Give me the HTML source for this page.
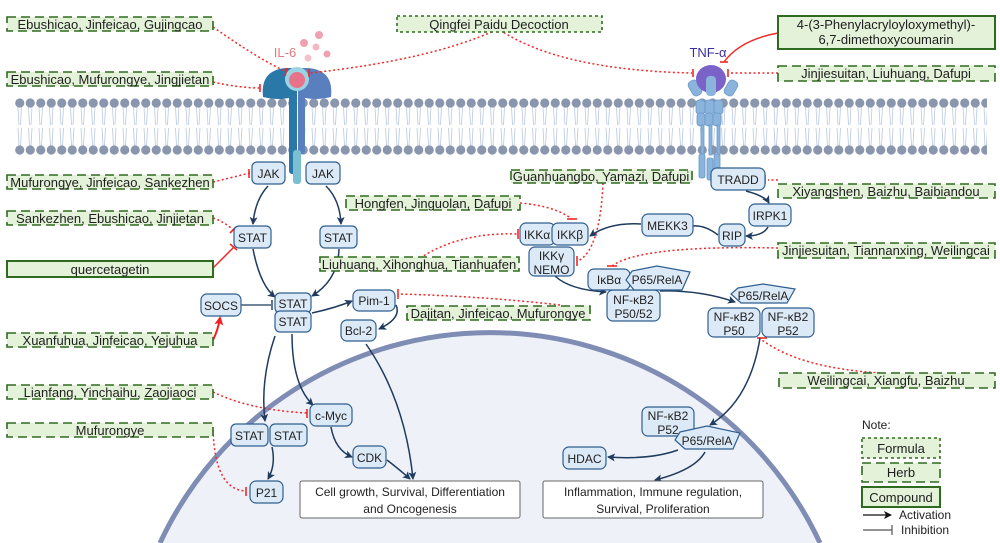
<!DOCTYPE html>
<html><head><meta charset="utf-8"><style>
html,body{margin:0;padding:0;background:#fff;width:1000px;height:543px;overflow:hidden}
svg{display:block;font-family:"Liberation Sans",sans-serif;overflow:hidden}
.n{fill:#dce9f7;stroke:#2f5f8f;stroke-width:1.2}
.t{font-size:12px;fill:#222;text-anchor:middle}
.h{fill:#e3f2d9;stroke:#2e6b1f;stroke-width:1.6;stroke-dasharray:9 5}
.f{fill:#e3f2d9;stroke:#2e6b1f;stroke-width:1.6;stroke-dasharray:3 3}
.c{fill:#e3f2d9;stroke:#2e6b1f;stroke-width:2}
.ht{font-size:13px;fill:#1e1e1e;text-anchor:middle}
.r{fill:none;stroke:#f02828;stroke-width:1.5;stroke-dasharray:2 2.5}
.rb{stroke:#f02828;stroke-width:1.6}
.a{fill:none;stroke:#1f3b5e;stroke-width:1.5;marker-end:url(#ar)}
</style></head><body>
<svg width="1000" height="543" viewBox="0 0 1000 543">
<defs>
<clipPath id="frame"><rect x="0" y="0" width="1000" height="543"/></clipPath>
<marker id="ar" markerWidth="8" markerHeight="8" refX="7" refY="4" orient="auto" markerUnits="userSpaceOnUse"><path d="M0,0 L8,4 L0,8 L2,4z" fill="#1f3b5e"/></marker>
<marker id="ark" markerWidth="8" markerHeight="8" refX="7" refY="4" orient="auto" markerUnits="userSpaceOnUse"><path d="M0,0 L8,4 L0,8 L2,4z" fill="#111"/></marker>
<marker id="arr" markerWidth="9" markerHeight="9" refX="7" refY="4.5" orient="auto" markerUnits="userSpaceOnUse"><path d="M0,0 L9,4.5 L0,9 L2,4.5z" fill="#f02020"/></marker>
<pattern id="mem" x="14.5" y="96" width="10.5" height="60" patternUnits="userSpaceOnUse">
<path d="M3.5,11 L4.5,29 M7,11 L6,29 M3.5,32 L4.5,50 M7,32 L6,50" stroke="#b9c8e2" stroke-width="0.8" fill="none"/>
<circle cx="5.25" cy="7" r="4.6" fill="#8a96ad"/>
<circle cx="5.25" cy="54" r="4.6" fill="#8a96ad"/>
</pattern>
</defs>

<rect x="14" y="96" width="973" height="60" fill="url(#mem)"/>

<g clip-path="url(#frame)">
<path d="M160,543 A364,364 0 0 1 820,543 Z" fill="#eef1f8" stroke="none"/>
<path d="M160,543 A364,364 0 0 1 820,543" fill="none" stroke="#7f8db5" stroke-width="5"/>
</g>

<path d="M263,97 Q260,70 286,68 L292,68 L292,97 Q280,101 263,97z" fill="#2a78a8"/>
<path d="M331,97 Q334,70 308,68 L302,68 L302,97 Q314,101 331,97z" fill="#5a7fbf"/>
<rect x="289" y="86" width="8" height="88" rx="3" fill="#2a78a8"/>
<rect x="298" y="86" width="7" height="68" rx="3" fill="#5a7fbf"/>
<rect x="293" y="150" width="8" height="34" rx="3" fill="#7ac0d0"/>
<circle cx="297" cy="79" r="12" fill="#9ad4e2"/>
<circle cx="297" cy="80" r="8" fill="#e8728a"/>
<text x="285" y="57" font-size="13" fill="#e07a80" text-anchor="middle">IL-6</text>
<circle cx="319" cy="35" r="4" fill="#f0a0b0"/><circle cx="304" cy="43" r="4" fill="#f0a0b0"/><circle cx="316" cy="47" r="3.5" fill="#f4b8c4"/><circle cx="327" cy="54" r="3.5" fill="#f0a0b0"/><circle cx="308" cy="58" r="3.5" fill="#f4c0cc"/>

<g fill="#8ab4dc" stroke="#6a98c8" stroke-width="0.8">
<rect x="690" y="80" width="10" height="16" rx="4" transform="rotate(-30 695 88)"/>
<rect x="726" y="80" width="10" height="16" rx="4" transform="rotate(30 731 88)"/>
<rect x="696" y="100" width="9" height="14" rx="3"/><rect x="705" y="100" width="9" height="14" rx="3"/><rect x="714" y="100" width="9" height="14" rx="3"/>
<rect x="697" y="113" width="8" height="13" rx="3"/><rect x="705" y="113" width="8" height="13" rx="3"/><rect x="713" y="113" width="8" height="13" rx="3"/>
<rect x="701" y="125" width="3" height="30"/><rect x="709" y="125" width="3" height="30"/><rect x="717" y="125" width="3" height="30"/>
<rect x="699" y="154" width="6" height="24" rx="2"/><rect x="707" y="158" width="6" height="22" rx="2"/><rect x="714" y="154" width="6" height="20" rx="2"/>
</g>
<ellipse cx="711" cy="79" rx="15" ry="14" fill="#7a62c8"/>
<rect x="706" y="76" width="10" height="20" rx="4" fill="#8ab4dc"/>
<text x="708" y="57" font-size="13" fill="#3a2fa0" text-anchor="middle">TNF-α</text>

<path class="r" d="M213,27 Q260,60 287,72"/><line class="rb" x1="287" y1="68" x2="285" y2="76"/>
<path class="r" d="M213,82 Q240,88 260,88"/><line class="rb" x1="260" y1="84" x2="260" y2="92"/>
<path class="r" d="M496,30 Q430,60 310,73"/><line class="rb" x1="309" y1="69" x2="309" y2="77"/>
<path class="r" d="M500,30 Q560,70 692,73"/><line class="rb" x1="693" y1="69" x2="693" y2="77"/>
<path class="r" d="M778,73 L728,73"/><line class="rb" x1="728" y1="69" x2="728" y2="77"/>
<path d="M778,33 Q740,40 724,62" fill="none" stroke="#f02828" stroke-width="1.4"/><line class="rb" x1="720" y1="62" x2="728" y2="62"/>
<path class="r" d="M213,182 L250,173"/><line class="rb" x1="249" y1="169" x2="249" y2="178"/>
<path class="r" d="M213,218 Q225,222 233,230"/><line class="rb" x1="230" y1="233" x2="236" y2="227"/>
<path d="M213,268 L234,247" fill="none" stroke="#f02828" stroke-width="1.5"/><line class="rb" x1="230" y1="244" x2="237" y2="250"/>
<path d="M213,340 Q218,330 220,318" fill="none" stroke="#f02020" stroke-width="2" marker-end="url(#arr)"/>
<path class="r" d="M213,392 Q250,410 307,413"/><line class="rb" x1="307" y1="409" x2="307" y2="418"/>
<path class="r" d="M213,430 Q215,490 246,491"/><line class="rb" x1="246" y1="487" x2="246" y2="496"/>
<path class="r" d="M520,203 Q555,206 572,219"/><line class="rb" x1="567" y1="219" x2="577" y2="219"/>
<path class="r" d="M420,258 Q460,232 518,234"/><line class="rb" x1="518" y1="229" x2="518" y2="239"/>
<path class="r" d="M603,183 Q600,250 578,261"/><line class="rb" x1="577" y1="256" x2="577" y2="266"/>
<path class="r" d="M778,248 Q640,245 612,266"/><line class="rb" x1="607" y1="266" x2="617" y2="266"/>
<path class="r" d="M560,305 Q480,296 398,294"/><line class="rb" x1="398" y1="289" x2="398" y2="299"/>
<path class="r" d="M778,180 L768,180"/><line class="rb" x1="765" y1="175" x2="765" y2="184"/>
<path class="r" d="M880,373 Q800,368 762,340"/><line class="rb" x1="757" y1="338" x2="767" y2="338"/>

<path class="a" d="M268,186 Q255,200 253,224"/>
<path class="a" d="M326,186 Q340,200 341,224"/>
<path class="a" d="M253,249 Q260,285 275,297"/>
<path class="a" d="M339,249 Q338,280 312,296"/>
<path d="M241,305 L271,305" fill="none" stroke="#1f3b5e" stroke-width="1.2"/><line x1="272" y1="300" x2="272" y2="310" stroke="#1f3b5e" stroke-width="1.4"/>
<path class="a" d="M312,313 Q335,308 352,301"/>
<path class="a" d="M396,305 Q402,318 379,329"/>
<path class="a" d="M275,336 Q260,380 265,421"/>
<path class="a" d="M292,334 Q292,385 313,405"/>
<path class="a" d="M272,447 Q276,465 268,479"/>
<path class="a" d="M331,427 Q335,450 352,457"/>
<path class="a" d="M366,344 Q405,400 413,479"/>
<path class="a" d="M387,460 Q400,470 410,479"/>
<path class="a" d="M746,191 Q765,196 769,203"/>
<path class="a" d="M768,227 Q763,236 746,236"/>
<path d="M718,235 Q705,225 693,226" fill="none" stroke="#1f3b5e" stroke-width="1.5"/>
<path class="a" d="M641,224 Q610,222 590,236"/>
<path class="a" d="M555,276 Q570,290 606,292"/>
<path class="a" d="M660,291 Q700,290 735,302"/>
<path class="a" d="M760,338 Q750,400 710,425"/>
<path class="a" d="M678,450 Q650,460 608,457"/>
<path class="a" d="M705,452 Q695,470 655,480"/>

<g>
<rect class="n" x="252" y="162" width="33" height="22" rx="5"/><text class="t" x="268.5" y="178">JAK</text>
<rect class="n" x="306" y="162" width="34" height="22" rx="5"/><text class="t" x="323" y="178">JAK</text>
<rect class="n" x="234" y="226" width="37" height="22" rx="5"/><text class="t" x="252.5" y="242">STAT</text>
<rect class="n" x="320" y="226" width="37" height="22" rx="5"/><text class="t" x="338.5" y="242">STAT</text>
<rect class="n" x="201" y="294" width="40" height="22" rx="6"/><text class="t" x="221" y="310">SOCS</text>
<rect class="n" x="275" y="293" width="36" height="20" rx="5"/><text class="t" x="293" y="308">STAT</text>
<rect class="n" x="275" y="311" width="36" height="21" rx="5"/><text class="t" x="293" y="326">STAT</text>
<rect class="n" x="353" y="290" width="42" height="21" rx="6"/><text class="t" x="374" y="305">Pim-1</text>
<rect class="n" x="341" y="320" width="35" height="21" rx="6"/><text class="t" x="358.5" y="335">Bcl-2</text>
<rect class="n" x="310" y="404" width="42" height="22" rx="6"/><text class="t" x="331" y="420">c-Myc</text>
<rect class="n" x="231" y="424" width="37" height="22" rx="5"/><text class="t" x="249.5" y="440">STAT</text>
<rect class="n" x="270" y="424" width="37" height="22" rx="5"/><text class="t" x="288.5" y="440">STAT</text>
<rect class="n" x="250" y="481" width="33" height="22" rx="6"/><text class="t" x="266.5" y="497">P21</text>
<rect class="n" x="353" y="446" width="33" height="22" rx="6"/><text class="t" x="369.5" y="462">CDK</text>
<rect class="n" x="711" y="168" width="54" height="22" rx="6"/><text class="t" x="738" y="184">TRADD</text>
<rect class="n" x="749" y="204" width="42" height="22" rx="6"/><text class="t" x="770" y="220">IRPK1</text>
<rect class="n" x="719" y="224" width="26" height="22" rx="6"/><text class="t" x="732" y="240">RIP</text>
<rect class="n" x="642" y="214" width="51" height="22" rx="6"/><text class="t" x="667.5" y="230">MEKK3</text>
<rect class="n" x="520" y="223" width="35" height="22" rx="6"/><text class="t" x="537" y="239">IKKα</text>
<rect class="n" x="552" y="223" width="36" height="22" rx="6"/><text class="t" x="570" y="239">IKKβ</text>
<rect class="n" x="529" y="247" width="45" height="29" rx="6"/><text class="t" x="551.5" y="260">IKKγ</text><text class="t" x="551.5" y="274">NEMO</text>
<rect class="n" x="607" y="290" width="53" height="31" rx="6"/><text class="t" x="633.5" y="304">NF-κB2</text><text class="t" x="633.5" y="318">P50/52</text>
<rect class="n" x="588" y="269" width="42" height="21" rx="6"/><text class="t" x="609" y="284">IκBα</text>
<path class="n" d="M632,271 L657,266 L690,272 L682,290 L634,290 L626,280z"/><text class="t" x="657" y="284">P65/RelA</text>
<path class="n" d="M738,288 L763,284 L795,289 L787,303 L741,303 L731,294z"/><text class="t" x="763" y="300">P65/RelA</text>
<rect class="n" x="708" y="308" width="52" height="29" rx="6"/><text class="t" x="734" y="321">NF-κB2</text><text class="t" x="734" y="335">P50</text>
<rect class="n" x="762" y="308" width="52" height="29" rx="6"/><text class="t" x="788" y="321">NF-κB2</text><text class="t" x="788" y="335">P52</text>
<rect class="n" x="642" y="407" width="52" height="29" rx="6"/><text class="t" x="668" y="420">NF-κB2</text><text class="t" x="668" y="434">P52</text>
<path class="n" d="M680,432 L707,426 L740,433 L733,449 L685,449 L675,440z"/><text class="t" x="707" y="445">P65/RelA</text>
<rect class="n" x="563" y="447" width="43" height="22" rx="6"/><text class="t" x="584.5" y="463">HDAC</text>
</g>

<rect x="300" y="481" width="220" height="37" rx="2" fill="#fff" stroke="#666" stroke-width="1"/>
<text class="t" x="410" y="496">Cell growth,  Survival, Differentiation</text><text class="t" x="410" y="513">and Oncogenesis</text>
<rect x="543" y="481" width="220" height="37" rx="2" fill="#fff" stroke="#666" stroke-width="1"/>
<text class="t" x="653" y="496">Inflammation, Immune regulation,</text><text class="t" x="653" y="513">Survival, Proliferation</text>

<rect class="h" x="7" y="17" width="206" height="14"/><text class="ht" x="110" y="29">Ebushicao, Jinfeicao, Gujingcao</text>
<rect class="h" x="7" y="72" width="206" height="14"/><text class="ht" x="110" y="84">Ebushicao, Mufurongye, Jingjietan</text>
<rect class="h" x="7" y="175" width="206" height="14"/><text class="ht" x="110" y="187">Mufurongye, Jinfeicao, Sankezhen</text>
<rect class="h" x="7" y="211" width="206" height="14"/><text class="ht" x="110" y="223">Sankezhen, Ebushicao, Jinjietan</text>
<rect class="c" x="7" y="261" width="206" height="16"/><text class="ht" x="110" y="274">quercetagetin</text>
<rect class="h" x="7" y="333" width="206" height="14"/><text class="ht" x="110" y="345">Xuanfuhua, Jinfeicao, Yejuhua</text>
<rect class="h" x="7" y="385" width="206" height="14"/><text class="ht" x="110" y="397">Lianfang, Yinchaihu, Zaojiaoci</text>
<rect class="h" x="7" y="423" width="206" height="14"/><text class="ht" x="110" y="435">Mufurongye</text>
<rect class="f" x="397" y="16" width="205" height="16"/><text class="ht" x="499" y="29">Qingfei Paidu Decoction</text>
<rect class="c" x="778" y="16" width="217" height="33"/><text class="ht" x="886" y="29">4-(3-Phenylacryloyloxymethyl)-</text><text class="ht" x="886" y="44">6,7-dimethoxycoumarin</text>
<rect class="h" x="778" y="66" width="217" height="15"/><text class="ht" x="886" y="78">Jinjiesuitan, Liuhuang, Dafupi</text>
<rect class="h" x="511" y="170" width="181" height="13"/><text class="ht" x="601" y="181">Guanhuangbo, Yamazi, Dafupi</text>
<rect class="h" x="346" y="196" width="174" height="14"/><text class="ht" x="433" y="208">Hongfen, Jinguolan, Dafupi</text>
<rect class="h" x="320" y="257" width="199" height="14"/><text class="ht" x="419" y="269">Liuhuang, Xihonghua, Tianhuafen</text>
<rect class="h" x="407" y="306" width="183" height="14"/><text class="ht" x="498" y="318">Dajitan, Jinfeicao, Mufurongye</text>
<rect class="h" x="778" y="184" width="217" height="14"/><text class="ht" x="886" y="196">Xiyangshen, Baizhu, Baibiandou</text>
<rect class="h" x="778" y="243" width="217" height="15"/><text class="ht" x="886" y="255">Jinjiesuitan, Tiannanxing, Weilingcai</text>
<rect class="h" x="779" y="373" width="216" height="15"/><text class="ht" x="886" y="385">Weilingcai, Xiangfu, Baizhu</text>

<text x="862" y="429" font-size="12" fill="#222">Note:</text>
<rect class="f" x="862" y="438" width="78" height="20"/><text class="ht" x="901" y="453">Formula</text>
<rect class="h" x="862" y="463" width="78" height="19"/><text class="ht" x="901" y="477">Herb</text>
<rect class="c" x="862" y="487" width="78" height="20"/><text class="ht" x="901" y="502">Compound</text>
<line x1="863" y1="515" x2="891" y2="515" stroke="#111" stroke-width="1.2" marker-end="url(#ark)"/>
<text x="899" y="519" font-size="12" fill="#222">Activation</text>
<line x1="863" y1="530" x2="892" y2="530" stroke="#555" stroke-width="1.2"/><line x1="892" y1="525" x2="892" y2="535" stroke="#555" stroke-width="1.2"/>
<text x="901" y="534" font-size="12" fill="#222">Inhibition</text>
</svg>
</body></html>
